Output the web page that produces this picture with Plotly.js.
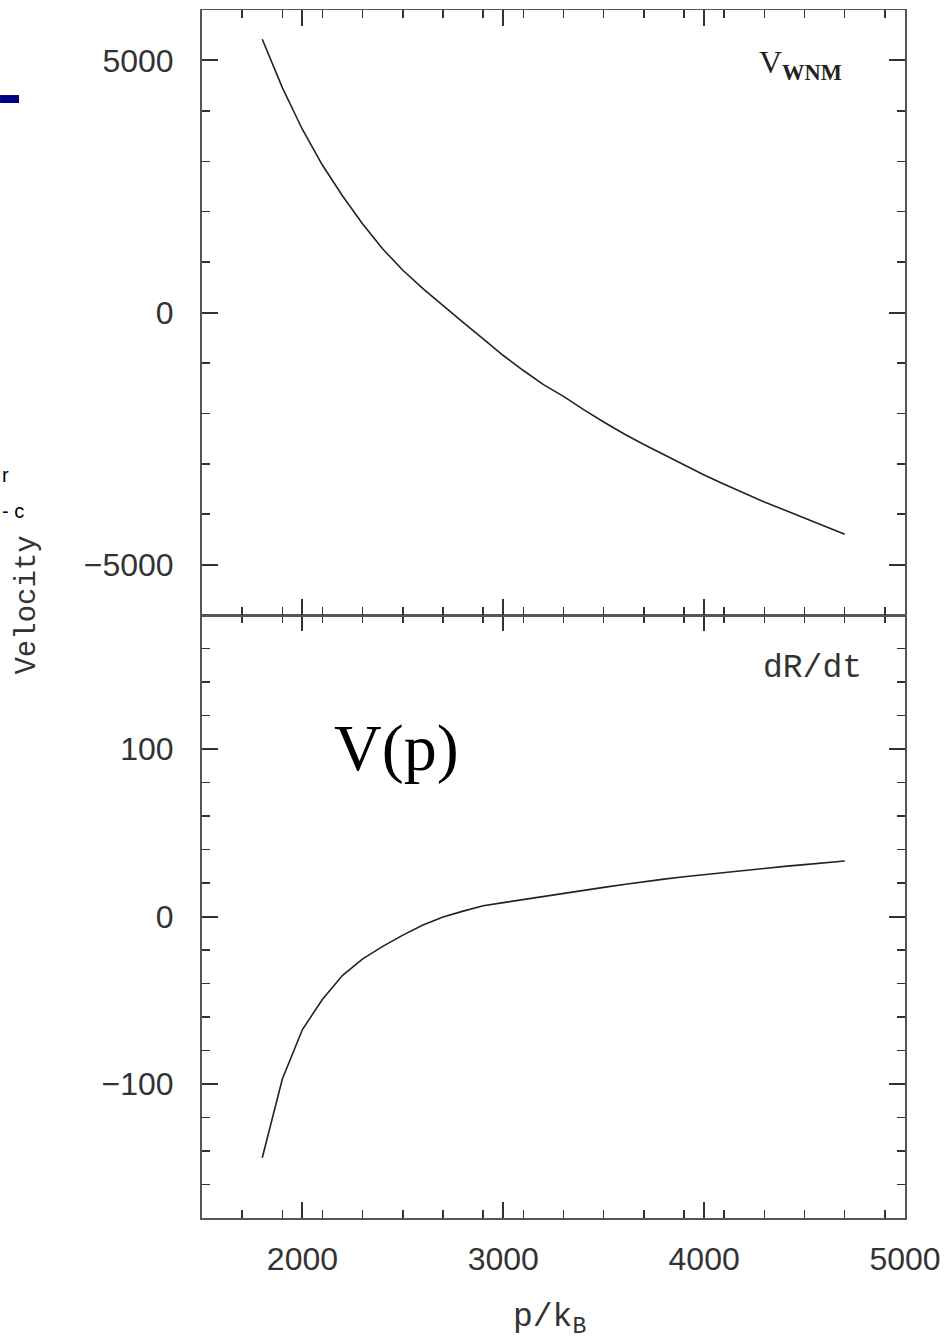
<!DOCTYPE html>
<html>
<head>
<meta charset="utf-8">
<script src="https://cdn.plot.ly/plotly-3.0.1.min.js"></script>
<style>html,body{margin:0;padding:0;background:#fff;}#chart{width:948px;height:1340px;}</style>
</head>
<body>
<div id="chart"></div>
<script>
// pressure p/k_B
const pressure = [1800,1900,2000,2100,2200,2300,2400,2500,2600,2700,2800,2900,3000,3100,3200,3300,3400,3500,3600,3700,3800,3900,4000,4100,4200,4300,4400,4500,4600,4700];
// top panel: V_WNM
const vWNM = [5420,4460,3630,2920,2310,1757,1260,838,474,134,-195,-525,-853,-1151,-1430,-1664,-1927,-2171,-2405,-2618,-2824,-3028,-3222,-3406,-3586,-3760,-3917,-4081,-4240,-4400];
// bottom panel: dR/dt
const dRdt = [-144,-97,-67.5,-49.4,-35.1,-25.3,-17.8,-11.1,-5.1,-0.3,3.2,6.4,8.3,10.2,12.0,13.9,15.7,17.4,19.1,20.9,22.3,23.7,25.0,26.4,27.7,28.8,29.9,31.0,32.1,33.1];

const xTickVals = [2000,3000,4000,5000];
const topTickVals = [-5000,0,5000];
const botTickVals = [-100,0,100];

const split = 603/1208;
const lineCol = '#555';
const tickCol = '#333';
const tickFont = {family:'Liberation Sans, Arial, sans-serif', size:32, color:'#333'};

function xAxis(anchor, labels){
  return {
    domain:[0,1], anchor:anchor, range:[1500,5000],
    tickmode:'array', tickvals:xTickVals,
    ticks:'inside', ticklen:16, tickwidth:2, tickcolor:tickCol,
    minor:{dtick:200, tick0:1500, ticks:'inside', ticklen:8, tickwidth:1.5, tickcolor:tickCol},
    showline:true, linewidth:1.5, linecolor:lineCol, mirror:'allticks',
    showgrid:false, zeroline:false, showticklabels:labels,
    tickfont:tickFont, ticklabelstandoff:12
  };
}
function yAxis(anchor, domain, range, vals, minorD){
  return {
    domain:domain, anchor:anchor, range:range,
    tickmode:'array', tickvals:vals,
    ticks:'inside', ticklen:16, tickwidth:2, tickcolor:tickCol,
    minor:{dtick:minorD, ticks:'inside', ticklen:8, tickwidth:1.5, tickcolor:tickCol},
    showline:true, linewidth:2, linecolor:lineCol, mirror:'allticks',
    showgrid:false, zeroline:false,
    tickfont:tickFont, ticklabelstandoff:20
  };
}

const traces = [
  {x:pressure, y:dRdt, xaxis:'x', yaxis:'y', type:'scatter', mode:'lines', line:{color:'#222', width:1.6}, showlegend:false, hoverinfo:'skip'},
  {x:pressure, y:vWNM, xaxis:'x2', yaxis:'y2', type:'scatter', mode:'lines', line:{color:'#222', width:1.6}, showlegend:false, hoverinfo:'skip'}
];

const monoFont = {family:'Liberation Mono, Courier New, monospace', size:33, color:'#333'};
const velFont = {family:'Liberation Mono, Courier New, monospace', size:29, color:'#333'};

const layout = {
  width:948, height:1340,
  margin:{l:202, r:43, t:10, b:122},
  paper_bgcolor:'#fff', plot_bgcolor:'#fff',
  showlegend:false,
  xaxis: xAxis('y', true),
  xaxis2: Object.assign(xAxis('y2', false), {matches:'x'}),
  yaxis: yAxis('x', [0,split], [-180,180], botTickVals, 20),
  yaxis2: yAxis('x2', [split,1], [-6000,6000], topTickVals, 1000),
  shapes:[
    {type:'rect', xref:'paper', yref:'paper', x0:-0.2873, x1:-0.2603, y0:0.923, y1:0.9296, fillcolor:'#000080', line:{width:0}}
  ],
  annotations:[
    {text:'V<sub><b>WNM</b></sub>', xref:'paper', yref:'paper', x:0.851, y:0.955, xanchor:'center', yanchor:'middle', showarrow:false, font:{family:'Liberation Serif, Times New Roman, serif', size:32, color:'#222'}},
    {text:'dR/dt', xref:'paper', yref:'paper', x:0.868, y:0.455, xanchor:'center', yanchor:'middle', showarrow:false, font:monoFont},
    {text:'V(p)', xref:'paper', yref:'paper', x:0.276, y:0.389, xanchor:'center', yanchor:'middle', showarrow:false, font:{family:'Liberation Serif, Times New Roman, serif', size:66, color:'#000'}},
    {text:'Velocity', xref:'paper', yref:'paper', x:-0.2475, y:0.507, xanchor:'center', yanchor:'middle', textangle:-90, showarrow:false, font:velFont},
    {text:'p/k<sub>B</sub>', xref:'paper', yref:'paper', x:0.495, y:-0.084, xanchor:'center', yanchor:'middle', showarrow:false, font:monoFont},
    {text:'r', xref:'paper', yref:'paper', x:-0.2873, y:0.615, xanchor:'left', yanchor:'middle', showarrow:false, font:{family:'Liberation Sans, sans-serif', size:20, color:'#000'}},
    {text:'- c', xref:'paper', yref:'paper', x:-0.2873, y:0.585, xanchor:'left', yanchor:'middle', showarrow:false, font:{family:'Liberation Sans, sans-serif', size:20, color:'#000'}}
  ]
};

Plotly.newPlot('chart', traces, layout, {staticPlot:true, displayModeBar:false});
</script>
</body>
</html>
